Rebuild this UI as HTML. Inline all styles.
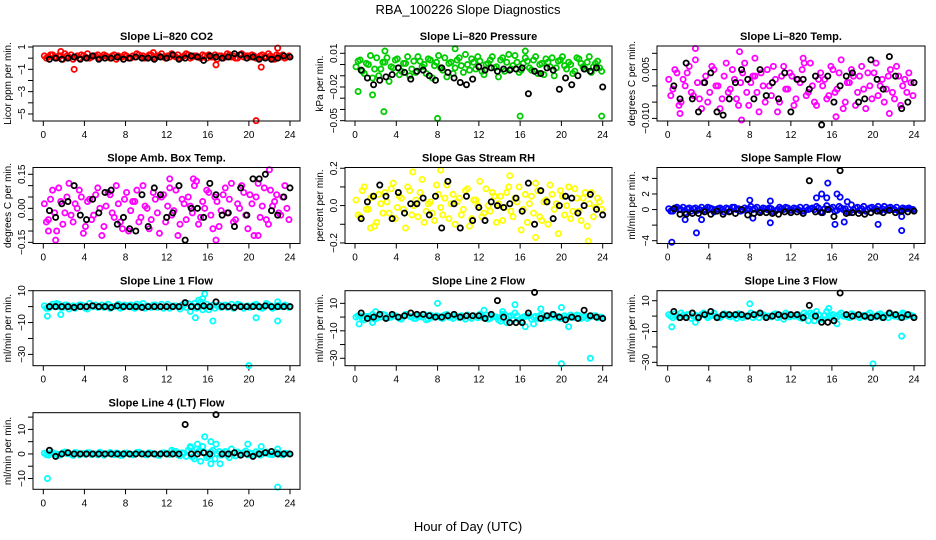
<!DOCTYPE html>
<html><head><meta charset="utf-8"><style>
body{margin:0;background:#fff}
svg{display:block;font-family:"Liberation Sans",Arial,sans-serif}
</style></head><body>
<svg id="chart" width="936" height="540" viewBox="0 0 936 540">
<rect width="936" height="540" fill="#fff"/>
<text x="468" y="14" text-anchor="middle" font-size="13">RBA_100226  Slope Diagnostics</text>
<text x="468" y="531" text-anchor="middle" font-size="13">Hour of Day (UTC)</text>
</svg>
<script>
// shared x ticks
const xTicks=[0,4,8,12,16,20,24];
// Li-820 CO2
const co2Color=[0.2,0.1,0.3,0.0,0.2,0.4,0.1,-0.1,0.2,0.3,0.1,0.0,0.2,0.3,0.1,0.2,0.0,0.3,0.2,0.1,0.2,0.0,0.1,0.3,0.2,0.1,0.3,0.0,0.2,0.1,0.2,0.4,0.1,0.0,0.2,0.3,0.1,0.2,0.0,0.2,0.3,0.1,-0.1,0.2,0.1,0.3,0.2,0.0,0.4,0.2,0.1,0.2,0.0,0.3,0.1,0.2,-0.1,0.2,0.3,0.1];
const co2Color2=[0.0,0.3,0.1,0.2,-0.1,0.2,0.3,0.1,0.0,0.2,0.4,0.1,0.2,0.0,0.3,0.1,0.2,-0.1,0.1,0.3,0.0,0.2,0.4,0.1,0.0,0.3,0.1,0.2,0.4,0.0,0.1,0.2,0.3,0.1,0.4,0.0,0.2,0.1,0.3,0.0,0.1,0.3,0.2,0.0,0.4,0.1,0.0,0.3,0.1,0.2,0.3,0.0,0.2,0.1,0.4,0.0,0.3,0.1,0.0,0.2];
const co2OutX=[3,20.7,22.8,1.7,16.8,21.2,10.7];
const co2OutY=[-1,-5.6,0.9,0.6,-0.6,-0.8,0.5];
const co2Black=[-0.1,0.0,-0.1,0.0,0.1,-0.1,0.0,0.2,-0.1,0.0,0.0,0.1,-0.1,0.0,0.1,0.0,0.0,-0.1,0.1,0.0,0.3,-0.1,0.0,0.2,0.1,-0.2,0.2,0.1,0.0,0.1,0.4,0.3,0.0,0.1,-0.1,0.0,-0.1,0.0,0.2,0.1];
// Li-820 Pressure
const presColor=[-0.002,0.004,-0.008,0.000,-0.012,0.006,-0.004,0.002,-0.015,-0.003,0.005,-0.006,0.001,-0.010,0.003,0.007,-0.002,-0.008,0.004,-0.001,0.008,-0.005,-0.011,0.002,-0.003,0.006,-0.007,0.000,0.005,-0.004,0.003,-0.009,0.001,0.007,-0.002,0.004,-0.006,0.009,-0.001,0.002,-0.005,0.006,-0.003,0.004,-0.008,0.001,0.005,-0.002,-0.010,0.003,0.007,-0.004,0.000,-0.006,0.005,-0.002,0.002,-0.007,0.001,-0.003];
const presColor2=[0.003,-0.006,0.001,0.008,-0.004,-0.010,0.002,0.006,-0.002,0.004,-0.009,0.001,0.007,-0.004,-0.007,0.003,0.000,0.005,-0.012,0.002,-0.003,0.006,0.001,-0.008,0.004,-0.001,0.009,-0.005,0.002,0.007,-0.006,0.000,0.004,-0.003,-0.011,0.006,0.002,-0.004,0.008,-0.007,0.001,0.003,-0.005,0.007,0.000,-0.009,0.002,0.006,-0.003,0.004,-0.001,0.002,-0.008,0.006,0.001,-0.004,0.007,-0.002,0.003,-0.006];
const presOutX=[0.3,2.8,8,16,23.9,9.7,16.5,1.7,2.9];
const presOutY=[-0.024,-0.042,-0.048,-0.046,-0.046,0.014,0.012,-0.027,0.012];
const presBlack=[-0.005,-0.012,-0.018,-0.014,-0.011,-0.009,-0.003,-0.007,-0.013,-0.006,-0.005,-0.010,-0.014,-0.003,-0.007,-0.012,-0.016,-0.018,-0.013,-0.002,-0.005,-0.003,-0.006,-0.004,-0.005,-0.004,-0.003,-0.026,-0.006,-0.008,-0.003,-0.005,-0.022,-0.012,-0.018,-0.010,-0.004,-0.006,-0.003,-0.020];
// Li-820 Temp
const ltColor=[0.002,-0.001,0.004,-0.005,0.000,0.006,-0.003,0.001,-0.007,0.003,-0.002,0.005,0.000,-0.004,0.007,-0.001,0.002,-0.006,0.004,-0.002,0.001,0.003,-0.008,0.000,0.005,-0.003,0.002,-0.005,0.006,-0.001,0.003,-0.004,0.001,0.007,-0.002,0.000,-0.006,0.004,0.002,-0.003,0.005,-0.001,0.008,-0.005,0.001,0.003,-0.002,0.006,-0.007,0.000,0.004,-0.003,0.002,-0.001,0.005,-0.004,0.003,0.000,-0.002,0.001];
const ltColor2=[-0.003,0.005,-0.006,0.002,0.004,-0.002,0.008,-0.004,0.001,-0.005,0.006,0.000,-0.007,0.003,-0.002,0.005,-0.004,0.001,0.007,-0.006,0.003,-0.002,0.004,-0.005,0.000,0.006,-0.008,0.003,-0.001,0.004,-0.006,0.002,0.005,-0.003,0.007,-0.005,0.002,0.000,-0.004,0.006,-0.002,0.004,-0.007,0.001,0.005,-0.006,0.003,-0.001,0.004,-0.004,0.007,0.000,-0.005,0.003,-0.002,0.006,-0.006,0.002,0.004,-0.003];
const ltOutX=[2.7,7,7.2,13.2,16.4,8.5,1.2,21.6];
const ltOutY=[0.0115,0.0105,-0.0105,0.0085,-0.0095,0.0085,-0.0085,-0.0085];
const ltBlack=[0.000,-0.004,0.007,-0.004,-0.008,0.001,0.004,-0.008,-0.009,-0.004,0.001,0.005,0.002,-0.004,0.005,-0.003,0.001,-0.004,0.004,-0.008,0.002,0.002,-0.001,0.003,-0.012,0.003,-0.005,0.000,0.003,0.004,-0.005,-0.004,0.008,0.002,-0.001,0.009,0.003,-0.007,-0.005,0.001];
// Amb Box Temp
const ambColor=[0.02,-0.05,0.08,-0.10,0.03,-0.02,0.11,-0.06,0.00,0.05,-0.08,0.04,-0.03,0.09,-0.12,0.01,0.06,-0.04,0.02,-0.09,0.07,-0.01,0.03,-0.06,0.10,0.00,-0.05,0.04,-0.11,0.06,0.01,-0.03,0.08,-0.07,0.02,0.05,-0.02,0.12,-0.04,0.00,0.07,-0.09,0.03,-0.01,0.09,0.04,-0.06,0.02,0.10,-0.03,0.06,-0.12,0.11,0.01,-0.05,0.08,0.03,-0.02,0.05,0.00];
const ambColor2=[-0.06,0.04,-0.02,0.09,-0.07,0.05,-0.03,0.02,0.08,-0.11,0.03,-0.05,0.06,0.00,-0.08,0.07,-0.02,0.10,-0.06,0.04,-0.10,0.03,0.08,-0.04,0.01,-0.09,0.07,-0.02,0.05,-0.06,0.09,-0.01,-0.12,0.04,-0.05,0.01,0.10,-0.07,0.03,0.08,-0.03,0.05,-0.08,0.06,-0.02,0.11,-0.05,0.00,0.07,-0.09,0.02,0.05,-0.04,0.09,-0.07,0.01,0.06,-0.03,0.10,-0.05];
const ambOutX=[1.2,16.8,22,12.3,14.6,0.5,20.9];
const ambOutY=[-0.14,-0.14,0.17,0.13,0.13,-0.1,-0.12];
const ambBlack=[-0.01,-0.04,0.02,0.03,0.10,-0.03,-0.05,0.04,-0.02,0.07,0.08,-0.07,-0.04,-0.09,-0.10,0.06,-0.08,0.09,0.06,-0.04,-0.02,0.10,-0.14,0.00,0.00,-0.04,0.11,0.06,-0.03,-0.02,-0.08,0.09,-0.03,0.13,0.13,0.15,-0.01,-0.03,0.05,0.09];
// Gas Stream RH
const rhColor=[0.03,-0.06,0.10,-0.02,0.05,-0.09,0.01,0.07,-0.04,0.12,-0.01,0.04,-0.12,0.08,0.00,-0.06,0.14,-0.03,0.02,-0.08,0.06,-0.05,0.11,0.01,-0.10,0.04,-0.02,0.09,-0.07,0.03,0.13,-0.04,0.00,0.07,-0.09,0.05,-0.01,0.10,-0.06,0.02,-0.13,0.06,0.01,-0.04,0.08,-0.08,0.03,0.11,-0.02,-0.15,0.05,0.00,-0.07,0.09,-0.03,0.04,-0.11,0.07,-0.01,0.02];
const rhColor2=[-0.05,0.08,-0.02,0.04,-0.11,0.06,-0.04,0.02,0.09,-0.07,0.05,-0.02,0.10,-0.05,0.03,0.07,-0.09,0.01,-0.04,0.11,-0.01,0.04,-0.07,0.06,0.02,-0.05,0.08,-0.11,0.03,0.00,-0.06,0.09,-0.03,0.05,0.01,-0.08,0.07,-0.03,0.04,0.10,-0.02,-0.09,0.05,0.12,-0.06,0.02,-0.10,0.06,0.01,0.08,-0.05,0.10,-0.03,0.04,-0.08,0.07,0.01,-0.06,0.04,-0.02];
const rhOutX=[5.6,8.3,22.6,17.5,1.5,15];
const rhOutY=[0.18,0.19,-0.19,-0.17,-0.12,0.16];
const rhBlack=[-0.07,0.02,0.05,0.11,0.05,-0.07,0.07,-0.04,0.01,0.01,0.04,-0.05,0.05,-0.12,0.13,0.01,-0.12,0.05,-0.08,-0.01,-0.08,0.02,0.00,-0.01,0.01,0.04,-0.03,0.12,-0.10,0.08,0.02,-0.07,0.00,0.05,0.04,-0.04,0.00,0.06,-0.02,-0.05];
// Sample Flow
const sfColor=[0.1,-0.2,0.3,0.0,-0.4,0.2,0.1,-0.1,0.3,0.0,0.2,-0.3,0.1,0.0,0.2,-0.2,0.3,0.1,-0.1,0.0,0.4,0.1,-0.3,0.2,0.0,0.1,-0.2,0.3,0.0,0.2,-0.1,0.1,0.3,-0.2,0.0,0.2,0.4,-0.3,0.1,0.0,0.3,-0.1,0.2,0.1,-0.4,0.0,0.3,0.1,-0.2,0.2,0.0,0.4,0.1,-0.1,0.3,0.0,-0.2,0.2,0.1,0.0];
const sfColor2=[-0.2,0.2,0.0,0.3,0.1,-0.2,0.2,0.0,-0.1,0.3,0.1,0.0,0.2,-0.3,0.1,0.3,0.0,-0.2,0.2,0.1,0.0,0.3,-0.1,0.1,0.2,-0.3,0.0,0.1,0.3,-0.1,0.2,0.0,-0.2,0.3,0.1,0.0,0.2,-0.4,0.5,0.1,-0.2,0.4,0.0,-0.3,0.6,0.2,-0.1,0.4,0.0,0.3,0.1,-0.2,0.4,0.2,0.0,0.3,-0.1,0.1,0.2,0.0];
const sfOutX=[0.4,1.7,2.8,3.3,8,8.3,10,10,14.5,15,15.6,15.5,16.3,16.5,16.8,17.2,17.5,20.5,22.8,22.8];
const sfOutY=[-4.2,-1.3,-3,-1.3,1.2,-1.1,-1.7,1.1,1.5,2,3.4,1.5,-1.9,2,1.6,-1.6,1,-1.9,-2.7,-0.9];
const sfBlack=[0.1,-0.6,-0.6,-0.5,-0.5,-0.3,-0.6,-0.2,-0.6,-0.3,-0.5,0.0,-0.7,-0.5,-0.4,-0.4,-0.5,-0.6,-0.3,-0.4,-0.3,-0.5,3.7,-0.3,-0.4,0.0,-0.9,5.0,-0.5,-0.4,-0.5,-0.6,-0.4,-0.2,-0.4,-0.1,-0.4,-0.2,-0.3,-0.2];
// Line 1 Flow
const l1Color=[0.5,-1,1.5,0,-0.5,1,-1.5,0.5,0,1,-1,2,0,-0.5,1,0.5,-1,0,1.5,-0.5,0.5,1,-1,0,2,0.5,-0.5,1,0,-1,1.5,0,0.5,-1.5,1,2,0.5,-1,3,0,-2,1,0.5,-0.5,1,0,-1,1.5,0.5,0,-0.5,1,0,-1,2,0.5,-0.5,1,0,0.5];
const l1Color2=[-1,0.5,0,1.5,-0.5,1,0,-1,1,0.5,-1.5,0.5,1,0,-0.5,1.5,0,0.5,-1,1,0,-0.5,1.5,0.5,-1,0,1,-0.5,1.5,0,-1,0.5,0,1,-0.5,-3,2,4,-2,1.5,0,-1,1,0.5,-0.5,1.5,0,1,-1,0.5,0,1.5,-0.5,0,1,-1,0.5,0,1,-0.5];
const l1OutX=[0.4,1.7,20,22.8,15.7,15.5,14.8,16.5,20.7,22.8,1.3];
const l1OutY=[-6,-5,-37,-9,8,5,-7,-9,-7,3,2];
const l1Black=[0,0,0,0,-0.5,0,0,0.5,0,0,-0.5,0.5,0,0,0,-0.5,0,0,0,0,0,0,2.5,0,0,0.5,0,3,0,0,-0.5,0,0,0,0,0.5,0,0,0,0];
// Line 2 Flow
const l2Color=[0,1,-2,0.5,2,-1,0,1.5,-0.5,1,0,-1.5,2,0.5,-1,1,0,-2,1.5,0,0.5,-1,2,0,1,-0.5,0,1.5,-1,0.5,2,0,-1.5,1,0,-3,2,0.5,-2,1,-3,0.5,1,0,-1,2,0,-0.5,1,0.5,-1,0,1.5,-0.5,1,0,-1,0.5,1,0];
const l2Color2=[1,-1,0.5,0,-1.5,1,2,-0.5,0,1,-1,0.5,1.5,0,-1,0.5,2,-1.5,0,1,-0.5,1.5,0,-1,0.5,1,-1.5,0,1,-0.5,0,1.5,-1,0.5,-2,2,-4,1,3,-2,0,1,-1.5,0.5,1,-1,0.5,2,0,-1,1,-0.5,0,1.5,-1,0.5,0,1,-0.5,0];
const l2OutX=[0.4,1.7,2,8,20,22.8,20.7,20,15.5,16.5,17.3,18,12.5,14.3];
const l2OutY=[-5,-4,4,10,-34,-30,-7,7,9,-7,-5,6,5,4];
const l2Black=[3,-1,0,2,-1,2,0,1,3,2,2,1,0,0,1,2,0,1,1,1,-1,2,12,0,-4,-4,-4,3,18,-1,1,2,0,-2,0,-1,5,1,0,-1];
// Line 3 Flow
const l3Color=[1,-1,0,2,-0.5,1,0,-1.5,1,0.5,0,2,-1,0.5,1,-0.5,0,1.5,-1,0,2,0.5,-1,1,0,-0.5,1.5,0,-2,1,0.5,0,-1,2,-3,1,3,-2,0.5,0,1,-0.5,2,0,-1,1,0.5,0,-0.5,2,0,1,-1,0.5,1.5,0,-0.5,1,0,0.5];
const l3Color2=[0,1.5,-1,0.5,1,-1.5,0.5,0,2,-1,0.5,0,-1,1.5,0,0.5,-1.5,1,0,0.5,-1,1,1.5,-0.5,0,1,-1,0.5,2,-0.5,0,1,-1.5,0.5,2,-3,1,-2,3,0.5,-1,1,0,-0.5,1.5,0,-1,0.5,1,0,-0.5,1.5,0,-1,0.5,1,0,-0.5,1,0];
const l3OutX=[0.4,2.7,20,22.8,8,16.5,15.7,22.9];
const l3OutY=[-7,-4,-31,-13,8,-5,5,2];
const l3Black=[3,-1,-1,2,-1,1,3,-1,1,1,1,1,0,1,2,-1,0,1,0,1,1,-1,7,0,-4,-4,-3,15,1,0,1,0,-1,0,-1,2,1,-1,1,-1];
// Line 4 (LT) Flow
const l4Color=[0.3,-0.5,0.6,0,-0.3,0.8,0.2,-0.6,0.4,0,-0.2,0.5,0.1,-0.4,0.3,0,0.6,-0.3,0.2,-0.5,0.4,0,-0.2,0.7,0.1,-0.4,0.3,0,-0.6,0.5,0.2,-0.1,1,-0.8,0.3,1.5,-1.2,2,-3,0.6,-1,1.5,0.2,-0.5,1,-1.5,0,0.8,-0.3,1.2,0.4,-0.6,0.3,0,0.8,-0.2,0.5,0,-0.4,0.2];
const l4Color2=[-0.3,0.4,0,-0.6,0.5,0.1,-0.2,0.6,-0.4,0.2,0.5,-0.3,0,0.7,-0.5,0.2,-0.1,0.4,-0.6,0.3,0,-0.4,0.6,0.1,-0.3,0.5,0,-0.5,0.3,0.1,-0.2,1,-0.4,0.5,-1,2.5,-2,1,3,-1.5,0.8,-2,1,0.5,-0.6,2,-0.8,0.3,0.6,-0.4,0.2,0.9,-0.5,0.4,0,-0.3,0.6,-0.2,0.3,0];
const l4OutX=[0.4,22.8,15.7,16.3,19.9,15,14.3,16.3,17.2,21.2,15.5,16.8,12.5,22.8];
const l4OutY=[-10,-13.5,7,5,4,4,3,-4,-4,3,3,4,1.5,2];
const l4Black=[1.5,-1,0,0.5,0,0,0,0,0,0,0,0,0,0,0,0,0,0,0,0,0,0,12,0,0,0.5,0,16,0,0,0.5,-0.5,0,-1,0,0.5,1,0,0,0];

const NS='http://www.w3.org/2000/svg';
const svg=document.getElementById('chart');
function mk(tag,attrs,parent){const e=document.createElementNS(NS,tag);for(const k in attrs)e.setAttribute(k,attrs[k]);(parent||svg).appendChild(e);return e;}

const cols=[{l:33,r:300,x0:43.3,x24:290},{l:345,r:612,x0:355,x24:602.7},{l:657,r:925,x0:667.7,x24:914}];
const rows=[{t:46,b:121},{t:167.5,b:243.5},{t:290.7,b:365.7},{t:412.7,b:489.3}];

const panels=[
 {key:'co2',title:'Slope Li\u2013820 CO2',ylab:'Licor ppm per min.',col:0,row:0,ymax:1.09,ymin:-5.63,color:'#ff0000',c:co2Color,c2:co2Color2,ox:co2OutX,oy:co2OutY,k:co2Black,ticks:[1,0,-1,-2,-3,-4,-5],labels:[1,-1,-3,-5],fmt:v=>String(v)},
 {key:'pressure',title:'Slope Li\u2013820 Pressure',ylab:'kPa per min.',col:1,row:0,ymax:0.0165,ymin:-0.0503,color:'#00cc00',c:presColor,c2:presColor2,ox:presOutX,oy:presOutY,k:presBlack,ticks:[0.01,0,-0.01,-0.02,-0.03,-0.04,-0.05],labels:[0.01,-0.02,-0.05],fmt:v=>v.toFixed(2)},
 {key:'li-temp',title:'Slope Li\u2013820 Temp.',ylab:'degrees C per min.',col:2,row:0,ymax:0.01225,ymin:-0.0108,color:'#ff00ff',c:ltColor,c2:ltColor2,ox:ltOutX,oy:ltOutY,k:ltBlack,ticks:[0.01,0.005,0,-0.005,-0.01],labels:[0.005,-0.01],fmt:v=>v.toFixed(3)},
 {key:'amb-temp',title:'Slope Amb. Box Temp.',ylab:'degrees C per min.',col:0,row:1,ymax:0.18,ymin:-0.155,color:'#ff00ff',c:ambColor,c2:ambColor2,ox:ambOutX,oy:ambOutY,k:ambBlack,ticks:[0.15,0.1,0.05,0,-0.05,-0.1,-0.15],labels:[0.15,0,-0.15],fmt:v=>v.toFixed(2)},
 {key:'rh',title:'Slope Gas Stream RH',ylab:'percent per min.',col:1,row:1,ymax:0.204,ymin:-0.203,color:'#ffff00',c:rhColor,c2:rhColor2,ox:rhOutX,oy:rhOutY,k:rhBlack,ticks:[0.2,0.1,0,-0.1,-0.2],labels:[0.2,0,-0.2],fmt:v=>v.toFixed(1)},
 {key:'sample-flow',title:'Slope Sample Flow',ylab:'ml/min per min.',col:2,row:1,ymax:5.4,ymin:-4.36,color:'#0000ff',c:sfColor,c2:sfColor2,ox:sfOutX,oy:sfOutY,k:sfBlack,ticks:[4,2,0,-2,-4],labels:[4,2,0,-4],fmt:v=>String(v)},
 {key:'line1',title:'Slope Line 1 Flow',ylab:'ml/min per min.',col:0,row:2,ymax:10,ymin:-37.1,color:'#00ffff',c:l1Color,c2:l1Color2,ox:l1OutX,oy:l1OutY,k:l1Black,ticks:[10,0,-10,-20,-30],labels:[10,-10,-30],fmt:v=>String(v)},
 {key:'line2',title:'Slope Line 2 Flow',ylab:'ml/min per min.',col:1,row:2,ymax:19.2,ymin:-35.4,color:'#00ffff',c:l2Color,c2:l2Color2,ox:l2OutX,oy:l2OutY,k:l2Black,ticks:[10,0,-10,-20,-30],labels:[10,-10,-30],fmt:v=>String(v)},
 {key:'line3',title:'Slope Line 3 Flow',ylab:'ml/min per min.',col:2,row:2,ymax:16.5,ymin:-32.2,color:'#00ffff',c:l3Color,c2:l3Color2,ox:l3OutX,oy:l3OutY,k:l3Black,ticks:[10,0,-10,-20,-30],labels:[10,-10,-30],fmt:v=>String(v)},
 {key:'line4',title:'Slope Line 4 (LT) Flow',ylab:'ml/min per min.',col:0,row:3,ymax:16.8,ymin:-14.4,color:'#00ffff',c:l4Color,c2:l4Color2,ox:l4OutX,oy:l4OutY,k:l4Black,ticks:[15,10,5,0,-5,-10],labels:[10,0,-10],fmt:v=>String(v)}
];

panels.forEach(p=>{
  const C=cols[p.col],R=rows[p.row];
  const g=mk('g',{});
  
  
  const xs=h=>C.x0+(C.x24-C.x0)*h/24;
  const ys=v=>R.t+(p.ymax-v)/(p.ymax-p.ymin)*(R.b-R.t);
  const cx=(C.l+C.r)/2, cy=(R.t+R.b)/2;
  const t=mk('text',{x:cx,y:R.t-6,'text-anchor':'middle','font-size':11,'font-weight':'bold'},g);
  t.textContent=p.title;
  
  
  const yl=mk('text',{x:0,y:0,transform:`translate(${C.l-22},${cy}) rotate(-90)`,'text-anchor':'middle','font-size':10},g);
  yl.textContent=p.ylab;
  
  
  xTicks.forEach(h=>{
    const tk=mk('line',{x1:xs(h),x2:xs(h),y1:R.b,y2:R.b+5,stroke:'#000'},g);
    
    
    const lb=mk('text',{x:xs(h),y:R.b+17,'text-anchor':'middle','font-size':10},g);
    lb.textContent=String(h);
    
    
  });
  p.ticks.forEach(v=>{
    const tk=mk('line',{x1:C.l-5,x2:C.l,y1:ys(v),y2:ys(v),stroke:'#000'},g);
    
    
  });
  p.labels.forEach(v=>{
    const lb=mk('text',{x:0,y:0,transform:`translate(${C.l-8},${ys(v)}) rotate(-90)`,'text-anchor':'middle','font-size':10},g);
    lb.textContent=p.fmt(v).replace('-','\u2212');
    
    
  });
  const pts=mk('g',{},g);
  
  
  p.c.forEach((v,i)=>{
    const c=mk('circle',{cx:xs(0.1+i*0.4),cy:ys(v),r:2.6,fill:'none',stroke:p.color,'stroke-width':1.8},pts);
    
    
  });
  p.c2.forEach((v,i)=>{
    const c=mk('circle',{cx:xs(0.3+i*0.4),cy:ys(v),r:2.6,fill:'none',stroke:p.color,'stroke-width':1.8},pts);
    
    
  });
  p.ox.forEach((h,i)=>{
    const c=mk('circle',{cx:xs(h),cy:ys(p.oy[i]),r:2.6,fill:'none',stroke:p.color,'stroke-width':1.8},pts);
    
    
  });
  p.k.forEach((v,i)=>{
    const c=mk('circle',{cx:xs(0.6+i*0.6),cy:ys(v),r:2.6,fill:'none',stroke:'#000','stroke-width':1.8},pts);
    
    
  });
  const box=mk('rect',{x:C.l,y:R.t,width:C.r-C.l,height:R.b-R.t,fill:'none',stroke:'#000','stroke-width':1},g);
  
  
});
</script>
</body></html>
